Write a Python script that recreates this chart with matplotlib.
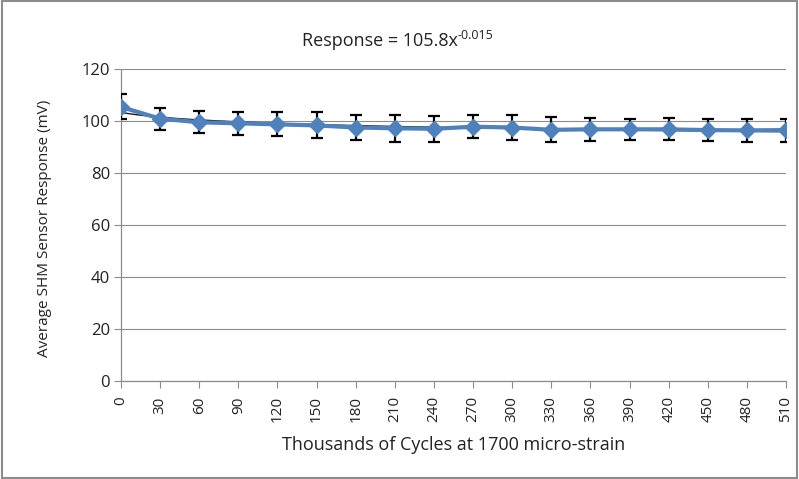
import numpy as np
import matplotlib
matplotlib.use("Agg")
import matplotlib.pyplot as plt
from matplotlib.patches import Rectangle

cycles = [0, 30, 60, 90, 120, 150, 180, 210, 240, 270, 300, 330, 360, 390, 420, 450, 480, 510]
response = [105.4, 100.9, 99.5, 99.1, 98.7, 98.3, 97.5, 97.2, 97.0, 97.8, 97.5, 96.6, 96.8, 96.8, 96.8, 96.5, 96.4, 96.5]
err = [4.8, 4.2, 4.3, 4.4, 4.6, 5.0, 4.8, 5.1, 4.9, 4.5, 4.8, 4.8, 4.5, 4.1, 4.2, 4.3, 4.5, 4.4]
title_main = "Response = 105.8x"
title_exp = "-0.015"

plt.rcParams['font.family'] = ['Open Sans', 'DejaVu Sans']

fig = plt.figure(figsize=(7.99, 4.79), dpi=100)
ax = fig.add_axes([121/799, 1-381/479, (786-121)/799, (381-69)/479])

x = np.array(cycles, dtype=float)
y = np.array(response)

ax.errorbar(x, y, yerr=err, fmt='none', ecolor='black', elinewidth=1.6, capsize=4.5, capthick=1.6, zorder=3)

# Power trendline fitted on category index (Excel style)
idx = np.arange(1, len(y)+1)
b, loga = np.polyfit(np.log(idx), np.log(y), 1)
fine = np.linspace(1, len(y), 300)
ax.plot((fine-1)*30, np.exp(loga)*fine**b, color='#1a1a1a', lw=1.0, zorder=4)

ax.plot(x, y, color='#4F81BD', lw=3.0, marker='D', markersize=8, markerfacecolor='#4F81BD',
        markeredgecolor='#4F81BD', zorder=5)

ax.set_xlim(0, 510)
ax.set_ylim(0, 120)
ax.set_yticks(range(0, 121, 20))
ax.set_xticks(cycles)
ax.set_xticklabels([str(c) for c in cycles], rotation=90)
ax.grid(axis='y', color='#8c8c8c', lw=0.8)
ax.set_axisbelow(True)
for s in ['top', 'right']:
    ax.spines[s].set_visible(False)
for s in ['left', 'bottom']:
    ax.spines[s].set_color('#8c8c8c')
    ax.spines[s].set_linewidth(0.9)
ax.tick_params(axis='both', colors='#8c8c8c', labelcolor='#222222', length=5, width=0.8)
ax.tick_params(axis='y', pad=3, labelsize=12)
ax.tick_params(axis='x', pad=6, labelsize=11)
ax.set_xlabel("Thousands of Cycles at 1700 micro-strain", fontsize=13, color='#222222')
ax.set_ylabel("Average SHM Sensor Response (mV)", fontsize=11, color='#222222')
ax.xaxis.set_label_coords(0.5, (381-445)/312, transform=ax.transAxes)
ax.yaxis.set_label_coords((45-121)/665, 0.49, transform=ax.transAxes)
ax.xaxis.label.set_va('center')
ax.yaxis.label.set_va('center')

t = fig.text(380/799, 1-41/479, title_main, ha='center', va='center', fontsize=13, color='#222222')
ax.annotate(title_exp, xy=(1.0, 0.78), xycoords=t, ha='left', va='center', fontsize=9,
            color='#222222', annotation_clip=False)

fig.patches.append(Rectangle((0.002, 0.003), 0.995, 0.994, transform=fig.transFigure,
                             fill=False, edgecolor='#8c8c8c', lw=1.5))

fig.savefig("out.png", dpi=100)
